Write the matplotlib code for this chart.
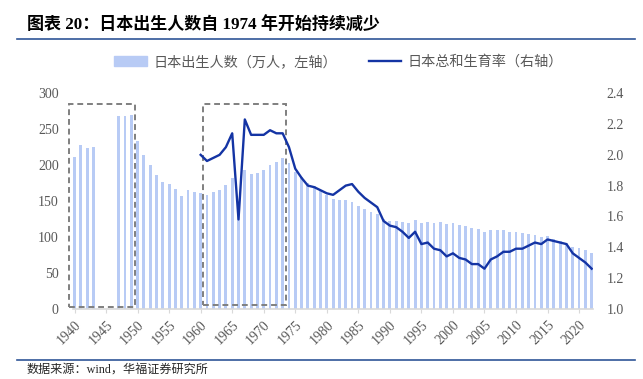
import matplotlib.pyplot as plt
from matplotlib.patches import Rectangle
from matplotlib.lines import Line2D

plt.rcParams['font.family'] = ['Liberation Serif', 'Noto Sans CJK SC', 'DejaVu Sans']

years = list(range(1940, 2023))

# births, 10k persons (None = no data 1944-1946)
births = [211.6, 227.7, 223.4, 225.4, None, None, None, 267.9, 268.2, 269.7,
          233.8, 213.8, 200.5, 186.8, 177.0, 173.1, 166.5, 156.7, 165.3, 162.6,
          160.6, 158.9, 161.9, 166.0, 171.7, 182.4, 136.1, 193.6, 187.2, 189.0,
          193.4, 200.1, 203.9, 209.2, 203.0, 190.1, 183.3, 175.5, 170.9, 164.3,
          157.7, 152.9, 151.5, 150.9, 149.0, 143.2, 138.3, 134.7, 131.4, 124.7,
          122.2, 122.3, 120.9, 118.8, 123.8, 118.7, 120.7, 119.2, 120.3, 117.8,
          119.1, 117.1, 115.4, 112.4, 111.1, 106.3, 109.3, 109.0, 109.1, 107.0,
          107.1, 105.1, 103.7, 103.0, 100.4, 100.6, 97.7, 94.6, 91.8, 86.5,
          84.1, 81.2, 77.1]

tfr_years = list(range(1960, 2023))
tfr = [2.00, 1.96, 1.98, 2.00, 2.05, 2.14, 1.58, 2.23, 2.13, 2.13,
       2.13, 2.16, 2.14, 2.14, 2.05, 1.91, 1.85, 1.80, 1.79, 1.77,
       1.75, 1.74, 1.77, 1.80, 1.81, 1.76, 1.72, 1.69, 1.66, 1.57,
       1.54, 1.53, 1.50, 1.46, 1.50, 1.42, 1.43, 1.39, 1.38, 1.34,
       1.36, 1.33, 1.32, 1.29, 1.29, 1.26, 1.32, 1.34, 1.37, 1.37,
       1.39, 1.39, 1.41, 1.43, 1.42, 1.45, 1.44, 1.43, 1.42, 1.36,
       1.33, 1.30, 1.26]

bar_color = '#b8cbf5'
line_color = '#1434a4'
gray = '#595959'

fig = plt.figure(figsize=(6.43, 3.79), dpi=100)
ax = fig.add_axes([72.7 / 643, 1 - 308.7 / 379, 520 / 643, 215.4 / 379])

bx = [i for i, v in enumerate(births) if v is not None]
bv = [v for v in births if v is not None]
ax.bar(bx, bv, width=0.45, color=bar_color, zorder=2)
ax.set_xlim(-0.29, 82.16)
ax.set_ylim(0, 300)
ax.set_yticks(range(0, 301, 50))
ax.set_xticks([years.index(y) for y in range(1940, 2021, 5)])
ax.set_xticklabels([str(y) for y in range(1940, 2021, 5)], rotation=45,
                   ha='right', rotation_mode='anchor')
ax.tick_params(axis='x', length=3, color='#d9d9d9', labelsize=10, labelcolor=gray, pad=4)
ax.tick_params(axis='y', length=0, labelsize=10, labelcolor=gray, pad=10)
for s in ['top', 'left', 'right']:
    ax.spines[s].set_visible(False)
ax.spines['bottom'].set_color('#d9d9d9')
ax.spines['bottom'].set_linewidth(1.2)

# dashed highlight boxes
for x0, x1, y1 in [(-0.92, 9.64, 2.8), (20.33, 33.58, 4.7)]:
    ax.add_patch(Rectangle((x0, y1), x1 - x0, 285 - y1, fill=False, ls=(0, (3, 2)),
                           lw=1.4, ec='#7f7f7f', zorder=5, clip_on=False))

ax2 = ax.twinx()
ax2.plot([years.index(y) for y in tfr_years], tfr, color=line_color, lw=1.7, zorder=3)
ax2.set_ylim(1.0, 2.4)
ax2.set_yticks([1.0, 1.2, 1.4, 1.6, 1.8, 2.0, 2.2, 2.4])
ax2.set_yticklabels(['%.1f' % t for t in [1.0, 1.2, 1.4, 1.6, 1.8, 2.0, 2.2, 2.4]])
ax2.tick_params(axis='y', length=0, labelsize=10, labelcolor=gray, pad=10)
for s in ax2.spines.values():
    s.set_visible(False)

handles = [Rectangle((0, 0), 1, 1, color=bar_color),
           Line2D([0], [0], color=line_color, lw=1.7)]
labels = ['日本出生人数（万人，左轴）', '日本总和生育率（右轴）']
fig.legend(handles, labels, loc='center', bbox_to_anchor=(338.5 / 643, 1 - 62 / 379),
           ncol=2, frameon=False, handlelength=2.3, handletextpad=0.45, columnspacing=2.25,
           prop={'family': ['Noto Sans CJK SC'], 'size': 10.2}, labelcolor=gray)

fig.text(27 / 643, 1 - 24 / 379, '图表 20：日本出生人数自 1974 年开始持续减少',
         fontsize=12.25, fontweight='bold', va='center', ha='left', color='black')
fig.add_artist(Line2D([17 / 643, 635 / 643], [1 - 39 / 379, 1 - 39 / 379],
                      color='#2f5597', lw=1.2))
fig.add_artist(Line2D([17 / 643, 635 / 643], [1 - 360 / 379, 1 - 360 / 379],
                      color='#2f5597', lw=1.2))
fig.text(27 / 643, 1 - 370 / 379, '数据来源：wind，华福证券研究所',
         fontsize=8.7, va='center', ha='left', color='#262626')

fig.savefig('out.png', dpi=100)
